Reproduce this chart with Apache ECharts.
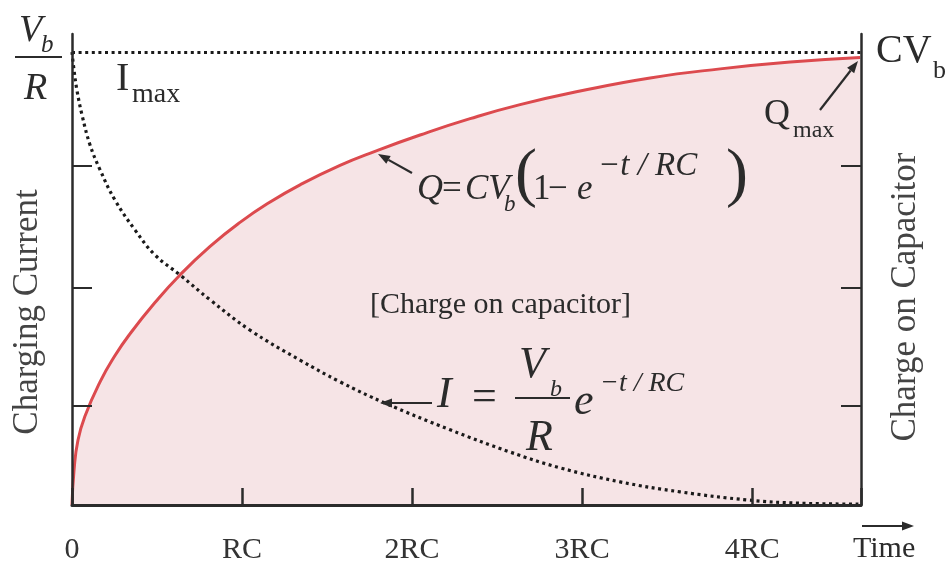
<!DOCTYPE html>
<html>
<head>
<meta charset="utf-8">
<title>RC charging</title>
<script src="https://cdn.jsdelivr.net/npm/echarts@6/dist/echarts.min.js"></script>
<style>
  html, body { margin: 0; padding: 0; background: #ffffff; }
  #chart { width: 952px; height: 567px; }
</style>
</head>
<body>
<div id="chart"></div>
<script>
// Time in units of RC, values normalised to their maxima (V_b/R and CV_b)
const timeTickLabels = ['0', 'RC', '2RC', '3RC', '4RC'];
const sideTicks = [0.22, 0.48, 0.75];

// Charge on the capacitor, Q / CV_b
const chargeT = [0, 0.012, 0.035, 0.076, 0.165, 0.253, 0.341, 0.488, 0.635, 0.812, 0.988, 1.165, 1.341, 1.576, 1.782, 2.047, 2.341, 2.635, 2.988, 3.4, 3.812, 4.224, 4.635];
const chargeQ = [0, 0.077, 0.143, 0.196, 0.272, 0.33, 0.378, 0.447, 0.508, 0.571, 0.624, 0.669, 0.707, 0.75, 0.781, 0.817, 0.853, 0.884, 0.914, 0.943, 0.963, 0.978, 0.988];

// Charging current, I / (V_b/R)
const currentT = [0, 0.012, 0.029, 0.059, 0.106, 0.165, 0.253, 0.371, 0.488, 0.635, 0.812, 1.047, 1.341, 1.576, 1.841, 2.224, 2.576, 2.871, 3.224, 3.576, 3.976, 4.271, 4.635];
const currentI = [1.0, 0.96, 0.916, 0.861, 0.795, 0.74, 0.673, 0.607, 0.552, 0.508, 0.453, 0.386, 0.32, 0.272, 0.225, 0.166, 0.117, 0.082, 0.051, 0.029, 0.011, 0.004, 0.002];

const SERIF = '"Liberation Serif", "Times New Roman", serif';
const INK = '#2b2b2b';
const TOP_Z = 100;

const chart = echarts.init(document.getElementById('chart'), null, { renderer: 'canvas' });

function txt(t, x, y, size, opts) {
  opts = opts || {};
  return {
    type: 'text', x: x, y: y, z: TOP_Z, silent: true,
    rotation: opts.rotation || 0,
    style: {
      text: t,
      font: (opts.italic ? 'italic ' : '') + size + 'px ' + SERIF,
      fill: opts.fill || INK,
      align: opts.align || 'left',
      verticalAlign: 'middle'
    }
  };
}

function bar(x1, y, x2) {
  return { type: 'line', z: TOP_Z, silent: true, shape: { x1: x1, y1: y, x2: x2, y2: y }, style: { stroke: INK, lineWidth: 2 } };
}

function arrow(x1, y1, x2, y2) {
  const a = Math.atan2(y2 - y1, x2 - x1);
  const L = 12, W = 4.5;
  const bx = x2 - L * Math.cos(a), by = y2 - L * Math.sin(a);
  const px = -Math.sin(a) * W, py = Math.cos(a) * W;
  return [
    { type: 'line', z: TOP_Z, silent: true, shape: { x1: x1, y1: y1, x2: bx, y2: by }, style: { stroke: INK, lineWidth: 2.2 } },
    { type: 'polygon', z: TOP_Z, silent: true, shape: { points: [[x2, y2], [bx + px, by + py], [bx - px, by - py]] }, style: { fill: INK } }
  ];
}

const graphics = [].concat(
  // V_b / R on the current axis
  [txt('V', 19, 31, 38, { italic: true }), txt('b', 41, 45, 25, { italic: true }), bar(15, 57, 62), txt('R', 24, 89, 38, { italic: true })],
  // I_max
  [txt('I', 116, 79, 40), txt('max', 132, 95, 28)],
  // CV_b on the charge axis
  [txt('CV', 876, 51, 40), txt('b', 933, 71, 26)],
  // Q_max
  [txt('Q', 764, 115, 36), txt('max', 793, 131, 24)],
  arrow(820, 110, 858, 61),
  // Q = CV_b(1 - e^{-t/RC})
  arrow(412, 173, 378, 154),
  [
    txt('Q', 417, 190, 36, { italic: true }),
    txt('=', 442, 190, 35),
    txt('CV', 465, 190, 35, { italic: true }),
    txt('b', 504, 205, 23, { italic: true }),
    txt('(', 515, 177, 66),
    txt('1', 533, 190, 35),
    txt('\u2212', 548, 190, 35),
    txt('e', 577, 190, 35, { italic: true }),
    txt('\u2212t / RC', 598, 166, 33, { italic: true }),
    txt(')', 726, 177, 66)
  ],
  [txt('[Charge on capacitor]', 370, 305, 30)],
  // I = (V_b/R) e^{-t/RC}
  arrow(432, 403, 380, 403),
  [
    txt('I', 437, 395, 44, { italic: true }),
    txt('=', 472, 398, 44),
    txt('V', 519, 365, 44, { italic: true }),
    txt('b', 550, 390, 24, { italic: true }),
    bar(515, 398, 570),
    txt('R', 526, 438, 44, { italic: true }),
    txt('e', 574, 402, 44, { italic: true }),
    txt('\u2212t / RC', 600, 384, 28, { italic: true })
  ],
  // time direction
  arrow(862, 526, 914, 526),
  [txt('Time', 853, 549, 30)],
  // side titles
  [
    txt('Charging Current', 28, 312, 35, { rotation: Math.PI / 2, align: 'center', fill: '#444444' }),
    txt('Charge on Capacitor', 906, 297, 35, { rotation: Math.PI / 2, align: 'center', fill: '#444444' })
  ]
);

const sideAxis = (pos) => ({
  type: 'value', position: pos, min: 0, max: 1.04, z: 10,
  axisLine: { show: true, lineStyle: { color: INK, width: 2.5 } },
  axisTick: { show: true, inside: true, length: 20, customValues: sideTicks, lineStyle: { color: INK, width: 2 } },
  axisLabel: { show: false },
  splitLine: { show: false }
});

chart.setOption({
  animation: false,
  backgroundColor: '#ffffff',
  grid: { left: 72, right: 91, top: 34, bottom: 62 },
  xAxis: {
    type: 'value', min: 0, max: 4.64, interval: 1, z: 10,
    axisLine: { show: true, lineStyle: { color: INK, width: 3 } },
    axisTick: { show: true, inside: true, length: 17, lineStyle: { color: INK, width: 2.5 } },
    axisLabel: {
      margin: 30, fontSize: 30, fontFamily: SERIF, color: '#333333',
      formatter: (v) => (Number.isInteger(v) && timeTickLabels[v] !== undefined ? timeTickLabels[v] : '')
    },
    splitLine: { show: false }
  },
  yAxis: [sideAxis('left'), sideAxis('right')],
  series: [
    {
      name: 'Charge', type: 'line', yAxisIndex: 0,
      data: chargeT.map((t, i) => [t, chargeQ[i]]),
      smooth: 0.5, symbol: 'none',
      lineStyle: { color: '#dc4a4e', width: 3 },
      areaStyle: { color: '#f6e4e6', opacity: 1 },
      z: 2
    },
    {
      name: 'Current', type: 'line', yAxisIndex: 0,
      data: currentT.map((t, i) => [t, currentI[i]]),
      smooth: 0.4, symbol: 'none',
      lineStyle: { color: '#1a1a1a', width: 3.2, type: [3, 3.6], cap: 'butt' },
      markLine: {
        silent: true, symbol: 'none', label: { show: false },
        lineStyle: { color: '#1a1a1a', width: 3.2, type: [3, 3.6] },
        data: [{ yAxis: 1 }]
      },
      z: 3
    }
  ],
  graphic: graphics
});
</script>
</body>
</html>
